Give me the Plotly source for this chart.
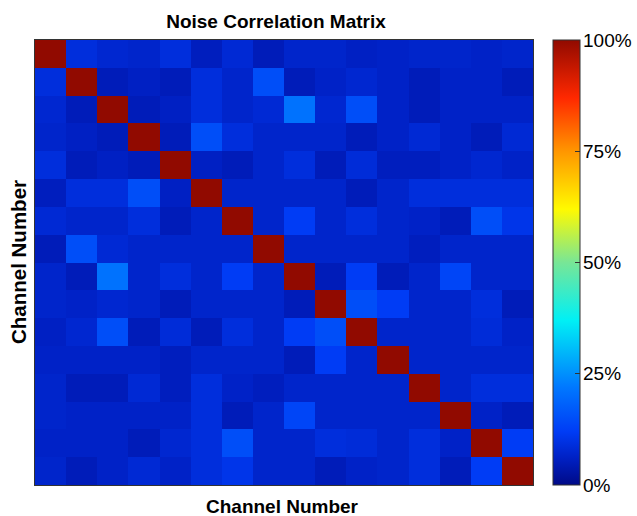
import plotly.graph_objects as go

channels = list(range(1, 17))

corr_rows = [
    [1, .09, .075, .07, .09, .055, .08, .05, .07, .07, .06, .065, .07, .07, .065, .07],
    [.09, 1, .05, .06, .05, .09, .07, .15, .05, .065, .075, .065, .05, .065, .065, .05],
    [.075, .05, 1, .05, .06, .09, .07, .08, .21, .075, .15, .065, .05, .065, .065, .065],
    [.07, .06, .05, 1, .05, .15, .09, .07, .07, .07, .05, .065, .08, .065, .05, .08],
    [.09, .05, .06, .05, 1, .06, .05, .07, .09, .05, .085, .055, .055, .065, .075, .065],
    [.055, .09, .09, .15, .06, 1, .07, .07, .07, .07, .05, .07, .09, .09, .09, .09],
    [.08, .07, .07, .09, .05, .07, 1, .07, .12, .07, .09, .07, .065, .05, .15, .105],
    [.05, .15, .08, .07, .07, .07, .07, 1, .07, .07, .07, .07, .055, .07, .07, .07],
    [.07, .05, .21, .07, .09, .07, .12, .07, 1, .05, .12, .05, .07, .135, .07, .07],
    [.07, .065, .075, .07, .05, .07, .07, .07, .05, 1, .15, .12, .07, .07, .09, .05],
    [.06, .075, .15, .05, .085, .05, .09, .07, .12, .15, 1, .07, .07, .07, .085, .065],
    [.065, .065, .065, .065, .055, .07, .07, .07, .05, .12, .07, 1, .07, .07, .07, .07],
    [.07, .05, .05, .08, .055, .09, .065, .055, .07, .07, .07, .07, 1, .07, .09, .09],
    [.07, .065, .065, .065, .065, .09, .05, .07, .135, .07, .07, .07, .07, 1, .065, .05],
    [.065, .065, .065, .05, .075, .09, .15, .07, .07, .09, .085, .07, .09, .065, 1, .12],
    [.07, .05, .065, .08, .065, .09, .105, .07, .07, .05, .065, .07, .09, .05, .12, 1],
]

tick_vals = [0, 0.25, 0.5, 0.75, 1.0]
tick_text = ["0%", "25%", "50%", "75%", "100%"]

jet_like = [
    [0.0, "rgb(0,10,135)"],
    [0.06, "rgb(0,32,195)"],
    [0.12, "rgb(0,60,245)"],
    [0.22, "rgb(0,120,255)"],
    [0.37, "rgb(0,240,245)"],
    [0.5, "rgb(120,230,150)"],
    [0.62, "rgb(255,250,0)"],
    [0.75, "rgb(255,150,0)"],
    [0.87, "rgb(255,40,0)"],
    [1.0, "rgb(145,10,0)"],
]

FONT = "Liberation Sans, Arial, sans-serif"
W, H = 637, 516
ML, MR, MT, MB = 35, 104, 40, 31
plot_w = W - ML - MR
plot_h = H - MT - MB
cb_left_px = 553
cb_thick = 27
cb_x = (cb_left_px - ML) / plot_w
label_x = (cb_left_px + cb_thick + 1 - ML) / plot_w

fig = go.Figure(go.Heatmap(
    z=corr_rows,
    x=channels,
    y=channels,
    zmin=0, zmax=1,
    colorscale=jet_like,
    colorbar=dict(
        x=cb_x, xanchor="left", xpad=0,
        y=0.5, yanchor="middle", len=1.0, lenmode="fraction", ypad=0,
        thickness=cb_thick, thicknessmode="pixels",
        outlinewidth=1, outlinecolor="#333",
        tickvals=tick_vals, showticklabels=False,
        ticks="inside", ticklen=5, tickcolor="#333", tickwidth=1,
    ),
))

# left-side colorbar ticks (mirroring the inside ticks)
tick_shapes = []
for v in tick_vals[1:-1]:
    tick_shapes.append(dict(
        type="line", xref="paper", yref="paper",
        x0=cb_x, x1=cb_x + 5 / plot_w,
        y0=v, y1=v, line=dict(color="#333", width=1),
    ))

cb_labels = [
    dict(text=t, xref="paper", yref="paper", x=label_x, y=v,
         xanchor="left", yanchor="middle", showarrow=False,
         font=dict(family=FONT, size=19, color="black"))
    for v, t in zip(tick_vals, tick_text)
]

fig.update_layout(
    width=W, height=H,
    margin=dict(l=ML, r=MR, t=MT, b=MB),
    paper_bgcolor="white", plot_bgcolor="white",
    font=dict(family=FONT, color="black"),
    title=dict(
        text="<b>Noise Correlation Matrix</b>",
        x=(276 - ML) / plot_w, xref="paper", xanchor="center",
        y=1 - 21 / H, yref="container", yanchor="middle",
        font=dict(family=FONT, size=19, color="black"),
    ),
    xaxis=dict(
        range=[0.5, 16.5], showticklabels=False, ticks="", showgrid=False,
        zeroline=False, showline=True, mirror=True, linecolor="#333", linewidth=1,
    ),
    yaxis=dict(
        range=[16.5, 0.5], showticklabels=False, ticks="", showgrid=False,
        zeroline=False, showline=True, mirror=True, linecolor="#333", linewidth=1,
    ),
    annotations=[
        dict(text="<b>Channel Number</b>", xref="paper", yref="paper",
             x=(282 - ML) / plot_w, y=(H - MB - 506) / plot_h,
             xanchor="center", yanchor="middle", showarrow=False,
             font=dict(family=FONT, size=19, color="black")),
        dict(text="<b>Channel Number</b>", xref="paper", yref="paper",
             x=(18 - ML) / plot_w, y=(H - MB - 262) / plot_h,
             xanchor="center", yanchor="middle", showarrow=False, textangle=-90,
             font=dict(family=FONT, size=20.5, color="black")),
    ] + cb_labels,
    shapes=tick_shapes,
)

fig.write_html(
    "out.html",
    config={"displayModeBar": False},
    post_script="document.body.style.margin='0';document.body.style.overflow='hidden';",
)
